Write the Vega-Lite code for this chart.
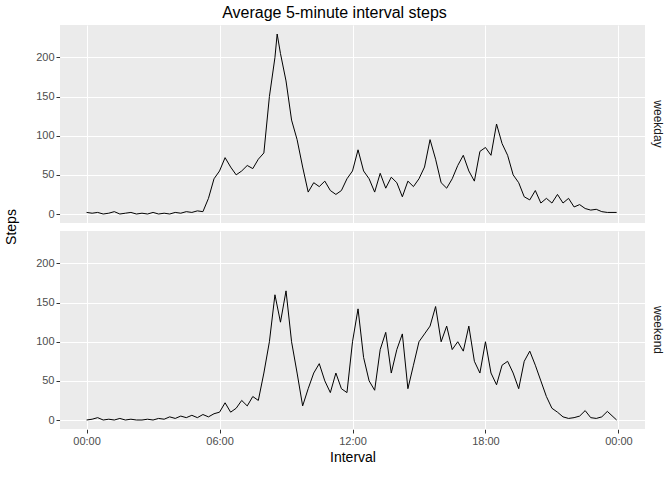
{
  "$schema": "https://vega.github.io/schema/vega-lite/v6.json",
  "padding": {"left": 5, "top": 5, "right": 5, "bottom": 5},
  "title": {"text": "Average 5-minute interval steps", "anchor": "middle", "fontSize": 16, "font": "Liberation Sans", "fontWeight": "normal", "color": "#000"},
  "data": {"values": [
    {"g":"weekday","h":0,"s":2},{"g":"weekday","h":0.25,"s":1},{"g":"weekday","h":0.5,"s":2},{"g":"weekday","h":0.75,"s":0},{"g":"weekday","h":1,"s":1},{"g":"weekday","h":1.25,"s":3},{"g":"weekday","h":1.5,"s":0},{"g":"weekday","h":1.75,"s":1},
    {"g":"weekday","h":2,"s":2},{"g":"weekday","h":2.25,"s":0},{"g":"weekday","h":2.5,"s":1},{"g":"weekday","h":2.75,"s":0},{"g":"weekday","h":3,"s":2},{"g":"weekday","h":3.25,"s":0},{"g":"weekday","h":3.5,"s":1},{"g":"weekday","h":3.75,"s":0},
    {"g":"weekday","h":4,"s":2},{"g":"weekday","h":4.25,"s":1},{"g":"weekday","h":4.5,"s":3},{"g":"weekday","h":4.75,"s":2},{"g":"weekday","h":5,"s":4},{"g":"weekday","h":5.25,"s":3},{"g":"weekday","h":5.5,"s":20},{"g":"weekday","h":5.75,"s":45},
    {"g":"weekday","h":6,"s":55},{"g":"weekday","h":6.25,"s":72},{"g":"weekday","h":6.5,"s":60},{"g":"weekday","h":6.75,"s":50},{"g":"weekday","h":7,"s":55},{"g":"weekday","h":7.25,"s":62},{"g":"weekday","h":7.5,"s":58},{"g":"weekday","h":7.75,"s":70},
    {"g":"weekday","h":8,"s":78},{"g":"weekday","h":8.25,"s":150},{"g":"weekday","h":8.5,"s":200},{"g":"weekday","h":8.6,"s":230},{"g":"weekday","h":8.75,"s":205},{"g":"weekday","h":9,"s":170},{"g":"weekday","h":9.25,"s":120},{"g":"weekday","h":9.5,"s":95},
    {"g":"weekday","h":9.75,"s":60},{"g":"weekday","h":10,"s":28},{"g":"weekday","h":10.25,"s":40},{"g":"weekday","h":10.5,"s":35},{"g":"weekday","h":10.75,"s":42},{"g":"weekday","h":11,"s":30},{"g":"weekday","h":11.25,"s":25},{"g":"weekday","h":11.5,"s":30},
    {"g":"weekday","h":11.75,"s":45},{"g":"weekday","h":12,"s":55},{"g":"weekday","h":12.25,"s":82},{"g":"weekday","h":12.5,"s":55},{"g":"weekday","h":12.75,"s":45},{"g":"weekday","h":13,"s":28},{"g":"weekday","h":13.25,"s":52},{"g":"weekday","h":13.5,"s":33},
    {"g":"weekday","h":13.75,"s":47},{"g":"weekday","h":14,"s":40},{"g":"weekday","h":14.25,"s":22},{"g":"weekday","h":14.5,"s":42},{"g":"weekday","h":14.75,"s":35},{"g":"weekday","h":15,"s":45},{"g":"weekday","h":15.25,"s":60},{"g":"weekday","h":15.5,"s":95},
    {"g":"weekday","h":15.75,"s":70},{"g":"weekday","h":16,"s":40},{"g":"weekday","h":16.25,"s":33},{"g":"weekday","h":16.5,"s":45},{"g":"weekday","h":16.75,"s":62},{"g":"weekday","h":17,"s":75},{"g":"weekday","h":17.25,"s":55},{"g":"weekday","h":17.5,"s":42},
    {"g":"weekday","h":17.75,"s":80},{"g":"weekday","h":18,"s":85},{"g":"weekday","h":18.25,"s":75},{"g":"weekday","h":18.5,"s":115},{"g":"weekday","h":18.75,"s":90},{"g":"weekday","h":19,"s":75},{"g":"weekday","h":19.25,"s":50},{"g":"weekday","h":19.5,"s":40},
    {"g":"weekday","h":19.75,"s":22},{"g":"weekday","h":20,"s":18},{"g":"weekday","h":20.25,"s":30},{"g":"weekday","h":20.5,"s":14},{"g":"weekday","h":20.75,"s":20},{"g":"weekday","h":21,"s":14},{"g":"weekday","h":21.25,"s":25},{"g":"weekday","h":21.5,"s":14},
    {"g":"weekday","h":21.75,"s":20},{"g":"weekday","h":22,"s":9},{"g":"weekday","h":22.25,"s":12},{"g":"weekday","h":22.5,"s":7},{"g":"weekday","h":22.75,"s":5},{"g":"weekday","h":23,"s":6},{"g":"weekday","h":23.25,"s":3},{"g":"weekday","h":23.5,"s":2},{"g":"weekday","h":23.92,"s":2},
    {"g":"weekend","h":0,"s":0},{"g":"weekend","h":0.25,"s":1},{"g":"weekend","h":0.5,"s":3},{"g":"weekend","h":0.75,"s":0},{"g":"weekend","h":1,"s":1},{"g":"weekend","h":1.25,"s":0},{"g":"weekend","h":1.5,"s":2},{"g":"weekend","h":1.75,"s":0},
    {"g":"weekend","h":2,"s":1},{"g":"weekend","h":2.25,"s":0},{"g":"weekend","h":2.5,"s":0},{"g":"weekend","h":2.75,"s":1},{"g":"weekend","h":3,"s":0},{"g":"weekend","h":3.25,"s":2},{"g":"weekend","h":3.5,"s":1},{"g":"weekend","h":3.75,"s":4},
    {"g":"weekend","h":4,"s":2},{"g":"weekend","h":4.25,"s":5},{"g":"weekend","h":4.5,"s":3},{"g":"weekend","h":4.75,"s":6},{"g":"weekend","h":5,"s":3},{"g":"weekend","h":5.25,"s":7},{"g":"weekend","h":5.5,"s":4},{"g":"weekend","h":5.75,"s":8},
    {"g":"weekend","h":6,"s":10},{"g":"weekend","h":6.25,"s":22},{"g":"weekend","h":6.5,"s":10},{"g":"weekend","h":6.75,"s":15},{"g":"weekend","h":7,"s":25},{"g":"weekend","h":7.25,"s":18},{"g":"weekend","h":7.5,"s":30},{"g":"weekend","h":7.75,"s":25},
    {"g":"weekend","h":8,"s":60},{"g":"weekend","h":8.25,"s":100},{"g":"weekend","h":8.5,"s":160},{"g":"weekend","h":8.75,"s":125},{"g":"weekend","h":9,"s":165},{"g":"weekend","h":9.25,"s":100},{"g":"weekend","h":9.5,"s":60},{"g":"weekend","h":9.75,"s":18},
    {"g":"weekend","h":10,"s":40},{"g":"weekend","h":10.25,"s":60},{"g":"weekend","h":10.5,"s":72},{"g":"weekend","h":10.75,"s":50},{"g":"weekend","h":11,"s":35},{"g":"weekend","h":11.25,"s":60},{"g":"weekend","h":11.5,"s":40},{"g":"weekend","h":11.75,"s":35},
    {"g":"weekend","h":12,"s":100},{"g":"weekend","h":12.25,"s":142},{"g":"weekend","h":12.5,"s":80},{"g":"weekend","h":12.75,"s":50},{"g":"weekend","h":13,"s":38},{"g":"weekend","h":13.25,"s":90},{"g":"weekend","h":13.5,"s":112},{"g":"weekend","h":13.75,"s":60},
    {"g":"weekend","h":14,"s":90},{"g":"weekend","h":14.25,"s":110},{"g":"weekend","h":14.5,"s":40},{"g":"weekend","h":14.75,"s":70},{"g":"weekend","h":15,"s":100},{"g":"weekend","h":15.25,"s":110},{"g":"weekend","h":15.5,"s":120},{"g":"weekend","h":15.75,"s":145},
    {"g":"weekend","h":16,"s":100},{"g":"weekend","h":16.25,"s":120},{"g":"weekend","h":16.5,"s":90},{"g":"weekend","h":16.75,"s":100},{"g":"weekend","h":17,"s":88},{"g":"weekend","h":17.25,"s":120},{"g":"weekend","h":17.5,"s":75},{"g":"weekend","h":17.75,"s":60},
    {"g":"weekend","h":18,"s":100},{"g":"weekend","h":18.25,"s":60},{"g":"weekend","h":18.5,"s":45},{"g":"weekend","h":18.75,"s":70},{"g":"weekend","h":19,"s":75},{"g":"weekend","h":19.25,"s":60},{"g":"weekend","h":19.5,"s":40},{"g":"weekend","h":19.75,"s":75},
    {"g":"weekend","h":20,"s":88},{"g":"weekend","h":20.25,"s":70},{"g":"weekend","h":20.5,"s":50},{"g":"weekend","h":20.75,"s":30},{"g":"weekend","h":21,"s":15},{"g":"weekend","h":21.25,"s":10},{"g":"weekend","h":21.5,"s":4},{"g":"weekend","h":21.75,"s":2},
    {"g":"weekend","h":22,"s":3},{"g":"weekend","h":22.25,"s":5},{"g":"weekend","h":22.5,"s":12},{"g":"weekend","h":22.75,"s":3},{"g":"weekend","h":23,"s":2},{"g":"weekend","h":23.25,"s":4},{"g":"weekend","h":23.5,"s":11},{"g":"weekend","h":23.92,"s":0}
  ]},
  "facet": {"row": {"field": "g", "type": "nominal", "title": "Steps",
    "header": {"labelOrient": "right", "labelAngle": 90, "labelFontSize": 12, "labelColor": "#1a1a1a", "labelFont": "Liberation Sans", "labelPadding": 6,
      "titleOrient": "left", "titleFontSize": 14, "titleFontWeight": "normal", "titleFont": "Liberation Sans", "titlePadding": 6}}},
  "spacing": 8,
  "spec": {
    "width": 585,
    "height": 198,
    "mark": {"type": "line", "color": "black", "strokeWidth": 1},
    "encoding": {
      "x": {"field": "h", "type": "quantitative", "scale": {"domain": [-1.2, 25.2], "nice": false, "zero": false},
        "axis": {"values": [0, 6, 12, 18, 24], "labelExpr": "datum.value == 24 ? '00:00' : (datum.value < 10 ? '0' + datum.value + ':00' : datum.value + ':00')", "title": "Interval"}},
      "y": {"field": "s", "type": "quantitative", "scale": {"domain": [-11.5, 241.5], "nice": false, "zero": false},
        "axis": {"values": [0, 50, 100, 150, 200], "title": null}}
    }
  },
  "config": {
    "font": "Liberation Sans",
    "view": {"fill": "#EBEBEB", "stroke": null},
    "axis": {"gridColor": "white", "domain": false, "tickColor": "#333", "tickSize": 4, "labelColor": "#4d4d4d", "labelFontSize": 11, "titleFontSize": 14, "titleFontWeight": "normal", "titleColor": "#000", "labelFont": "Liberation Sans", "titleFont": "Liberation Sans"}
  }
}
